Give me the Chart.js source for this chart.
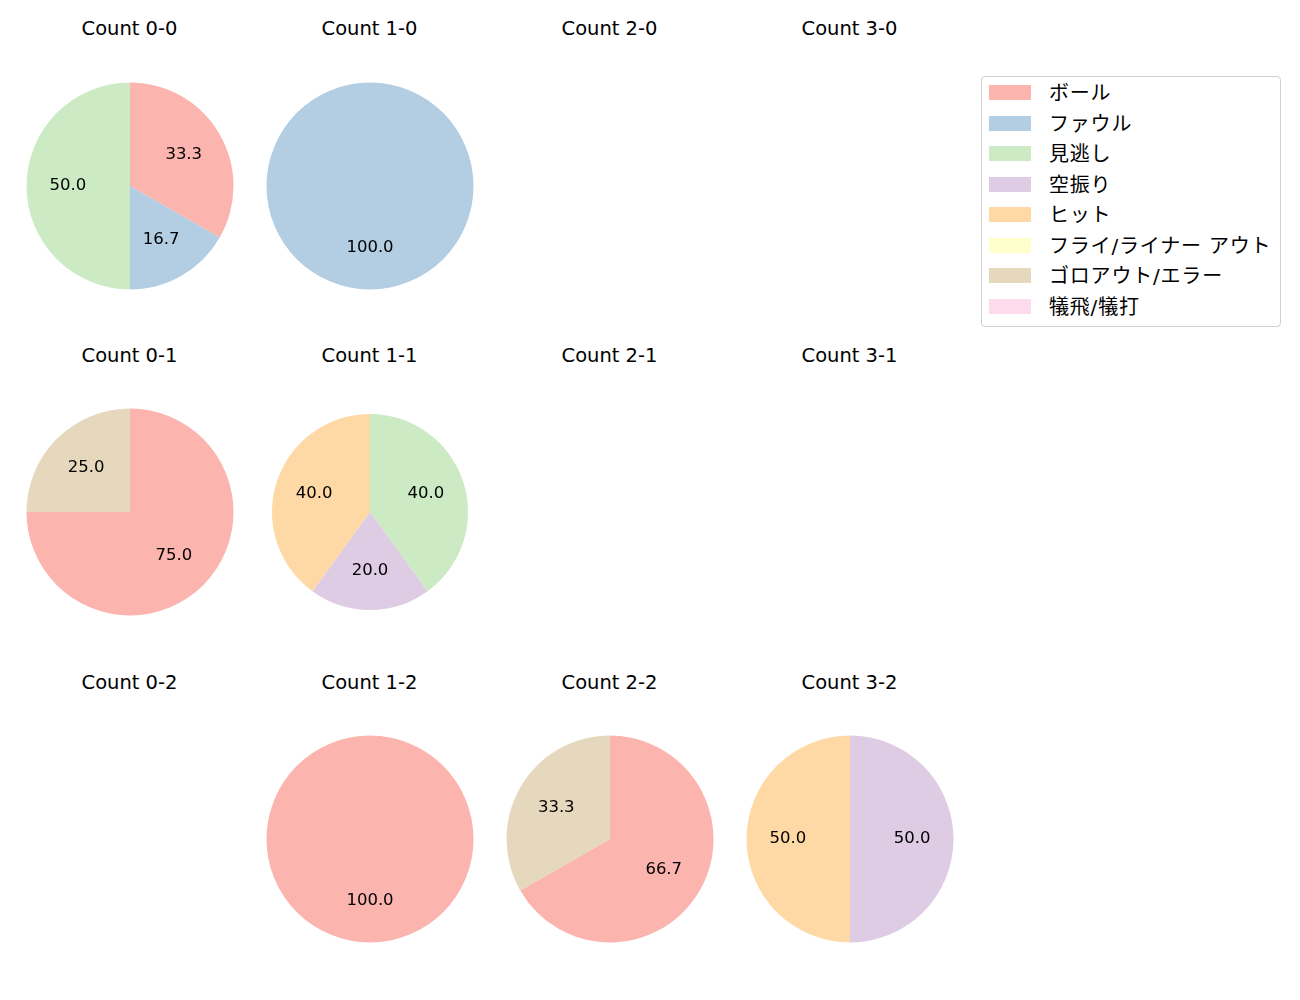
<!DOCTYPE html>
<html>
<head>
<meta charset="utf-8">
<script src="https://cdn.jsdelivr.net/npm/chart.js@4.4.1/dist/chart.umd.min.js"></script>
<style>
  body { margin: 0; background: #fff; font-family: "DejaVu Sans", "Noto Sans CJK JP", sans-serif; }
  #wrap { position: relative; width: 1300px; height: 1000px; overflow: hidden; }
  .title { position: absolute; width: 240px; text-align: center; font-size: 19.5px; color: #000; line-height: 24px; }
  canvas { position: absolute; }
  #legend { position: absolute; left: 981px; top: 76px; width: 300px; height: 251px;
    border: 1px solid #d0d0d0; border-radius: 4px; box-sizing: border-box; }
  .item { position: absolute; left: 7px; height: 20px; font-size: 20px; line-height: 20px; white-space: nowrap; }
  .sw { position: absolute; left: 0; top: 2px; width: 42px; height: 15px; }
  .lt { position: absolute; left: 60px; top: 0; letter-spacing: 0.8px; }
</style>
</head>
<body>
<div id="wrap"></div>
<script>
const categories = ['ボール', 'ファウル', '見逃し', '空振り', 'ヒット', 'フライ/ライナー アウト', 'ゴロアウト/エラー', '犠飛/犠打'];
const colors = ['#fbb4ae', '#b3cde3', '#ccebc5', '#decbe4', '#fed9a6', '#ffffcc', '#e5d8bd', '#fddaec'];

const countLabels = [
  ['Count 0-0', 'Count 1-0', 'Count 2-0', 'Count 3-0'],
  ['Count 0-1', 'Count 1-1', 'Count 2-1', 'Count 3-1'],
  ['Count 0-2', 'Count 1-2', 'Count 2-2', 'Count 3-2']
];

// percentages per category, null = no pitches at that count
const count00 = [33.3, 16.7, 50.0, 0, 0, 0, 0, 0];
const count10 = [0, 100.0, 0, 0, 0, 0, 0, 0];
const count20 = null;
const count30 = null;
const count01 = [75.0, 0, 0, 0, 0, 0, 25.0, 0];
const count11 = [0, 0, 40.0, 20.0, 40.0, 0, 0, 0];
const count21 = null;
const count31 = null;
const count02 = null;
const count12 = [100.0, 0, 0, 0, 0, 0, 0, 0];
const count22 = [66.7, 0, 0, 0, 0, 0, 33.3, 0];
const count32 = [0, 0, 0, 50.0, 50.0, 0, 0, 0];

const grid = [
  [count00, count10, count20, count30],
  [count01, count11, count21, count31],
  [count02, count12, count22, count32]
];

// layout
const colX = [129.5, 369.5, 609.5, 849.5];
const rowY = [185.5, 512, 839];
const titleY = [17, 344, 671];

const pctLabels = {
  id: 'pctLabels',
  afterDatasetsDraw(chart) {
    const ctx = chart.ctx;
    const meta = chart.getDatasetMeta(0);
    const vals = chart.data.datasets[0].data;
    ctx.save();
    ctx.fillStyle = '#000';
    ctx.font = '16.5px "DejaVu Sans", sans-serif';
    ctx.textAlign = 'center';
    ctx.textBaseline = 'middle';
    meta.data.forEach((arc, i) => {
      if (!vals[i]) return;
      const p = arc.getProps(['x', 'y', 'startAngle', 'endAngle', 'outerRadius'], true);
      const mid = (p.startAngle + p.endAngle) / 2;
      const r = p.outerRadius * 0.6;
      ctx.fillText(vals[i].toFixed(1), p.x + Math.cos(mid) * r, p.y + Math.sin(mid) * r);
    });
    ctx.restore();
  }
};

const wrap = document.getElementById('wrap');

grid.forEach((row, r) => {
  row.forEach((vals, c) => {
    const t = document.createElement('div');
    t.className = 'title';
    t.style.left = (colX[c] - 120) + 'px';
    t.style.top = titleY[r] + 'px';
    t.textContent = countLabels[r][c];
    wrap.appendChild(t);
    if (!vals) return;

    const size = 230;
    const cv = document.createElement('canvas');
    cv.width = size;
    cv.height = size;
    cv.style.left = (colX[c] - size / 2) + 'px';
    cv.style.top = (rowY[r] - size / 2) + 'px';
    wrap.appendChild(cv);

    const radius = (r === 1 && c === 1) ? 98 : 103.5;
    new Chart(cv, {
      type: 'pie',
      data: {
        labels: categories,
        datasets: [{
          data: vals,
          backgroundColor: colors,
          borderWidth: 0,
          radius: radius
        }]
      },
      options: {
        responsive: false,
        animation: false,
        layout: { padding: 0 },
        plugins: {
          legend: { display: false },
          tooltip: { enabled: false }
        }
      },
      plugins: [pctLabels]
    });
  });
});

// legend
const legend = document.createElement('div');
legend.id = 'legend';
categories.forEach((name, i) => {
  const it = document.createElement('div');
  it.className = 'item';
  it.style.top = (6 + i * 30.5) + 'px';
  it.innerHTML = '<div class="sw" style="background:' + colors[i] + '"></div><div class="lt">' + name + '</div>';
  legend.appendChild(it);
});
wrap.appendChild(legend);
</script>
</body>
</html>
